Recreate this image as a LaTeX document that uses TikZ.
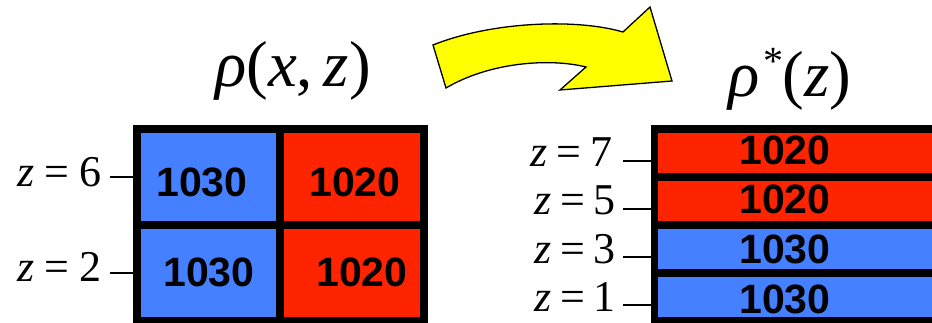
\documentclass[tikz,border=0pt]{standalone}
\usepackage{fontspec}
\setmainfont{Liberation Serif}
\newfontfamily\arialfont{Liberation Sans}
\definecolor{cblue}{RGB}{68,128,255}
\definecolor{cred}{RGB}{255,36,0}
\definecolor{cyel}{RGB}{255,255,0}
\begin{document}
\begin{tikzpicture}[x=1pt,y=-1pt,
  num/.style={font=\arialfont\bfseries\fontsize{41}{41}\selectfont, inner sep=0pt, anchor=base},
  zlab/.style={font=\fontsize{44}{44}\selectfont, inner sep=0pt, anchor=base west},
  ttl/.style={font=\fontsize{65}{65}\selectfont, inner sep=0pt, anchor=base west},
  gridline/.style={line width=7.5pt},
  tickline/.style={line width=2pt},
  arrowshape/.style={fill=cyel, draw=black, line width=1.3pt, line join=miter}]
\useasboundingbox (0,0) rectangle (932,323);
% titles
\node[ttl] (t1) at (215,87) {\textit{ρ}(\textit{x},\,\textit{z})};
\node[ttl] (t2) at (728,97) {\textit{ρ}\hspace{4pt}\raisebox{22pt}{\fontsize{40}{40}\selectfont *}\hspace{-1pt}(\textit{z})};
% arrow
\draw[arrowshape] (433,45) .. controls (490,22) and (575,18) .. (623,32) -- (650,7) -- (672,81) -- (560,90) -- (586,67) .. controls (550,58) and (490,62) .. (446,88) -- cycle;
% left grid
\fill[cblue] (136,129) rectangle (280,225);
\fill[cred] (280,129) rectangle (424,225);
\fill[cblue] (136,225) rectangle (280,321);
\fill[cred] (280,225) rectangle (424,321);
\draw[gridline] (136.75,129) rectangle (423.75,321);
\draw[gridline] (280,129) -- (280,321);
\draw[gridline] (136.75,225) -- (423.75,225);
\node[num] (a1) at (202,197) {1030};
\node[num] (a2) at (355,197) {1020};
\node[num] (a3) at (209,287) {1030};
\node[num] (a4) at (362,287) {1020};
% left labels
\node[zlab] (l6) at (17,187) {\textit{z}\hspace{0.24em}=\hspace{0.22em}6};
\node[zlab] (l2) at (17,282) {\textit{z}\hspace{0.24em}=\hspace{0.22em}2};
\coordinate (l6a) at (110,177); \coordinate (l6b) at (133,177);
\coordinate (l2a) at (110,273); \coordinate (l2b) at (133,273);
\draw[tickline] (l6a) -- (l6b);
\draw[tickline] (l2a) -- (l2b);
% right grid
\fill[cred] (654,129) rectangle (945,177);
\fill[cred] (654,177) rectangle (945,225);
\fill[cblue] (654,225) rectangle (945,273);
\fill[cblue] (654,273) rectangle (945,321);
\draw[gridline] (945,129) -- (654.5,129) -- (654.5,321) -- (945,321);
\draw[gridline] (654.5,177) -- (945,177);
\draw[gridline] (654.5,225) -- (945,225);
\draw[gridline] (654.5,273) -- (945,273);
\node[num] (b1) at (785,165) {1020};
\node[num] (b2) at (785,214) {1020};
\node[num] (b3) at (785,263) {1030};
\node[num] (b4) at (785,313) {1030};
% right labels
\node[zlab] (r7) at (530,167) {\textit{z}\hspace{0.2em}=\hspace{0.22em}7};
\node[zlab] (r5) at (534,215) {\textit{z}\hspace{0.2em}=\hspace{0.2em}5};
\node[zlab] (r3) at (534,264) {\textit{z}\hspace{0.2em}=\hspace{0.2em}3};
\node[zlab] (r1) at (534,312) {\textit{z}\hspace{0.2em}=\hspace{0.2em}1};
\coordinate (r7a) at (623,161); \coordinate (r7b) at (651,161);
\coordinate (r5a) at (623,209); \coordinate (r5b) at (651,209);
\coordinate (r3a) at (623,257); \coordinate (r3b) at (651,257);
\coordinate (r1a) at (623,305); \coordinate (r1b) at (651,305);
\draw[tickline] (r7a) -- (r7b);
\draw[tickline] (r5a) -- (r5b);
\draw[tickline] (r3a) -- (r3b);
\draw[tickline] (r1a) -- (r1b);
\end{tikzpicture}
\end{document}
